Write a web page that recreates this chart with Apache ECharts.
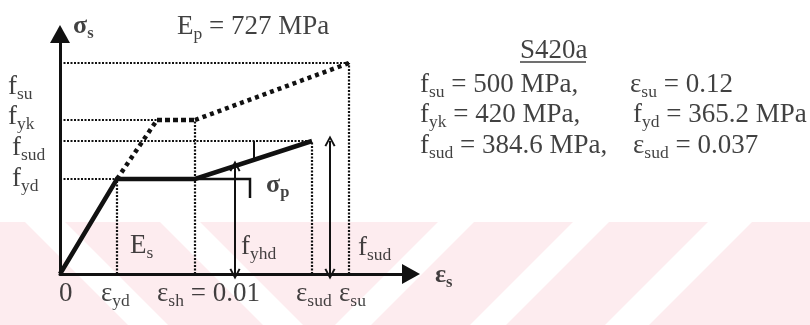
<!DOCTYPE html>
<html>
<head>
<meta charset="utf-8">
<script src="https://cdn.jsdelivr.net/npm/echarts@6/dist/echarts.min.js"></script>
<style>
  html, body { margin: 0; padding: 0; background: #fff; }
  #chart { width: 810px; height: 325px; font-family: 'Liberation Serif', serif; }
</style>
</head>
<body>
<div id="chart"></div>
<script>
// Schematic idealised stress-strain diagram for S420a reinforcing steel.
// Axis units are diagram units (not to scale), origin at (0, 0).

// Strain positions along the horizontal axis
const strainNames = ['0', 'ε_yd', 'ε_sh', 'ε_sud', 'ε_su'];
const strainValues = [0, 57, 135, 252, 289];
const strainYk = 97;                    // end of the characteristic elastic branch

// Stress levels along the vertical axis
const stressNames = ['f_yd', 'f_sud', 'f_yk', 'f_su'];
const stressValues = [95, 133, 154, 211];

const [eps0, epsYd, epsSh, epsSud, epsSu] = strainValues;
const [fYd, fSud, fYk, fSu] = stressValues;

// Design curve (solid) and characteristic curve (dotted)
const designCurve = [[eps0, 0], [epsYd, fYd], [epsSh, fYd], [epsSud, fSud]];
const charElastic = [[epsYd, fYd], [strainYk, fYk]];
const charPlateau = [[strainYk, fYk], [epsSh, fYk]];
const charHardening = [[epsSh, fYk], [epsSu, fSu]];

// Dotted guide lines from the characteristic points to the stress axis / strain axis
const horizontalGuides = [[epsSu, fSu], [strainYk, fYk], [epsSud, fSud], [epsYd, fYd]];
const verticalGuides = [[epsYd, fYd], [epsSh, fYk], [epsSud, fSud], [epsSu, fSu]];

// Stress f_yhd read at this strain on the hardening branch, and the sigma_p bracket
const strainYhd = 175;
const stressYhd = 108;
const sigmaPBracket = [[epsSh, fYd], [190, fYd], [190, 76]];
const sigmaPTick = [[194, fSud], [194, 114]];
const strainSudArrow = 270;

// Material properties
const gradeName = 'S420a';
const propRows = [
  ['f_su = 500 MPa,', 'ε_su = 0.12'],
  ['f_yk = 420 MPa,', 'f_yd = 365.2 MPa'],
  ['f_sud = 384.6 MPa,', 'ε_sud = 0.037']
];
const modulusText = 'E_p = 727 MPa';

const FONT = 'Liberation Serif';
const INK = '#111';

const richStyles = {
  m:  { fontFamily: FONT, fontSize: 27, color: INK },
  s:  { fontFamily: FONT, fontSize: 17.5, color: INK, padding: [15, 0, 0, 0] },
  mb: { fontFamily: FONT, fontSize: 26, color: INK, fontWeight: 'bold' },
  sb: { fontFamily: FONT, fontSize: 16.5, color: INK, fontWeight: 'bold', padding: [15, 0, 0, 0] }
};

// Turn "x_ab rest" into rich text: the run after "_" up to a space, "=" or "," is a subscript
function richText(str, bold) {
  const m = bold ? 'mb' : 'm';
  const s = bold ? 'sb' : 's';
  let out = '';
  let i = 0;
  while (i < str.length) {
    const u = str.indexOf('_', i);
    if (u < 0) { out += '{' + m + '|' + str.slice(i) + '}'; break; }
    const head = str.slice(i, u);
    if (head) out += '{' + m + '|' + head + '}';
    let j = u + 1;
    while (j < str.length && str[j] !== ' ' && str[j] !== '=' && str[j] !== ',') j++;
    out += '{' + s + '|' + str.slice(u + 1, j) + '}';
    i = j;
  }
  return out;
}

// Text annotations placed in diagram units (left edge, vertical middle)
const annotations = [
  { t: 'σ_s', x: 13, y: 248, b: true },
  { t: modulusText, x: 117, y: 247 },
  { t: 'f_su', x: -52, y: 187 },
  { t: 'f_yk', x: -52, y: 157 },
  { t: 'f_sud', x: -48, y: 126 },
  { t: 'f_yd', x: -48, y: 95 },
  { t: 'E_s', x: 70, y: 28 },
  { t: 'f_yhd', x: 181, y: 27 },
  { t: 'f_sud', x: 298, y: 26 },
  { t: 'σ_p', x: 206, y: 89, b: true },
  { t: 'ε_s', x: 375, y: -1, b: true },
  { t: strainNames[0], x: -1, y: -20 },
  { t: strainNames[1], x: 41, y: -20 },
  { t: strainNames[2] + ' = 0.01', x: 97, y: -20 },
  { t: strainNames[3], x: 236, y: -20 },
  { t: strainNames[4], x: 279, y: -20 },
  { t: gradeName, x: 460, y: 223 },
  { t: propRows[0][0], x: 360, y: 189 },
  { t: propRows[0][1], x: 570, y: 189 },
  { t: propRows[1][0], x: 360, y: 159 },
  { t: propRows[1][1], x: 573, y: 159 },
  { t: propRows[2][0], x: 360, y: 128 },
  { t: propRows[2][1], x: 573, y: 128 }
];

// Open arrow head (pointing along the line direction)
const chevron = 'path://M0,10 L5,0 L10,10 L8.4,10.8 L5,3.6 L1.6,10.8 Z';

function lineSeries(data, width, dash) {
  return {
    type: 'line', data: data, symbol: 'none', clip: false, silent: true,
    animation: false, z: 3,
    lineStyle: { color: INK, width: width, type: dash || 'solid', cap: 'butt', join: 'miter' }
  };
}

// Light diagonal-striped band along the bottom of the page
function stripeBand() {
  const top = 222, bottom = 325, h = bottom - top;
  const els = [{
    type: 'rect', silent: true, z: -100,
    shape: { x: 0, y: top, width: 810, height: h },
    style: { fill: '#fdecef' }
  }];
  const backslash = [[25, 40], [160, 40]];
  const slash = [[438, 36], [573, 36], [708, 44]];
  backslash.forEach(([a, w]) => els.push({
    type: 'polygon', silent: true, z: -99,
    shape: { points: [[a, top], [a + w, top], [a + w + h, bottom], [a + h, bottom]] },
    style: { fill: '#fff' }
  }));
  slash.forEach(([a, w]) => els.push({
    type: 'polygon', silent: true, z: -99,
    shape: { points: [[a, top], [a + w, top], [a + w - h, bottom], [a - h, bottom]] },
    style: { fill: '#fff' }
  }));
  return els;
}

const series = [];
// thin dotted guides
horizontalGuides.forEach(([x, y]) => series.push(lineSeries([[0, y], [x, y]], 2.2, [2, 1.5])));
verticalGuides.forEach(([x, y]) => series.push(lineSeries([[x, 0], [x, y]], 2.2, [2, 1.5])));
// characteristic curve
series.push(lineSeries(charElastic, 4.5, [4, 4]));
series.push(lineSeries(charPlateau, 4.5, [5, 3]));
series.push(lineSeries(charHardening, 4.5, [4, 4]));
// design curve
series.push(lineSeries(designCurve, 4.5));
series.push(lineSeries(sigmaPBracket, 2.5));
series.push(lineSeries(sigmaPTick, 2));
// dimension arrows
series.push({
  type: 'line', data: [], silent: true, animation: false,
  markLine: {
    silent: true, animation: false,
    symbol: [chevron, chevron], symbolSize: 11,
    label: { show: false },
    lineStyle: { color: INK, width: 2, type: 'solid' },
    emphasis: { disabled: true },
    data: [
      [{ coord: [strainYhd, 0] }, { coord: [strainYhd, stressYhd] }],
      [{ coord: [strainSudArrow, 0] }, { coord: [strainSudArrow, fSud] }]
    ]
  }
});
// annotations, plus the underline of the grade name
series.push({
  type: 'scatter', symbolSize: 0, clip: false, silent: true, animation: false, z: 5,
  data: annotations.map(n => ({
    value: [n.x, n.y],
    label: {
      show: true, position: 'right', distance: 0,
      fontFamily: FONT, fontSize: 27, color: INK,
      formatter: richText(n.t, n.b), rich: richStyles
    }
  })).concat([{
    value: [493, 212], symbol: 'rect', symbolSize: [66, 1.6],
    itemStyle: { color: INK }, label: { show: false }
  }])
});

const axisLine = {
  show: true, onZero: false,
  symbol: ['none', 'triangle'], symbolSize: [20, 18],
  lineStyle: { color: INK, width: 3 }
};

const chart = echarts.init(document.getElementById('chart'), null, { renderer: 'canvas' });
chart.setOption({
  animation: false,
  backgroundColor: '#fff',
  textStyle: { fontFamily: FONT },
  grid: { left: 60, top: 34, width: 351, height: 240 },
  xAxis: {
    type: 'value', min: 0, max: 351,
    axisLine: axisLine, axisTick: { show: false }, axisLabel: { show: false }, splitLine: { show: false }
  },
  yAxis: {
    type: 'value', min: 0, max: 240,
    axisLine: axisLine, axisTick: { show: false }, axisLabel: { show: false }, splitLine: { show: false }
  },
  graphic: { elements: stripeBand() },
  series: series
});
</script>
</body>
</html>
